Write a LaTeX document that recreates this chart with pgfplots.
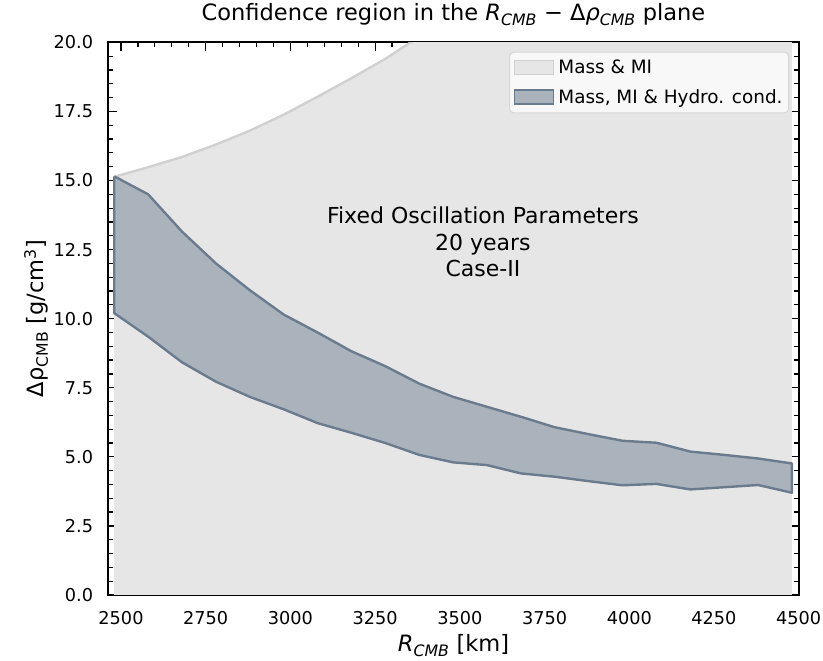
\documentclass[border=0pt]{standalone}
\usepackage{pgfplots}
\pgfplotsset{compat=1.18}
\usepackage{fontspec}
\setmainfont{DejaVu Sans}
\definecolor{lightfill}{HTML}{E6E6E6}
\definecolor{lightedge}{HTML}{D0D0D0}
\definecolor{bandfill}{HTML}{AAB3BC}
\definecolor{bandedge}{HTML}{6A7B8E}
\definecolor{legfill}{HTML}{F8F8F8}
\definecolor{legedge}{HTML}{D6D6D6}
\begin{document}
\begin{tikzpicture}
\begin{axis}[
  name=ax,
  scale only axis,
  width=690.4pt, height=552.7pt,
  xmin=2462.5, xmax=4500, ymin=0, ymax=20,
  xtick={2500,2750,...,4500},
  ytick={0,2.5,5,7.5,10,12.5,15,17.5,20},
  minor x tick num=4, minor y tick num=4,
  tick align=inside,
  tick pos=both,
  major tick length=8.5pt, minor tick length=4.5pt,
  every tick/.style={black, line width=1.2pt},
  axis line style={black, line width=1.6pt},
  /pgf/number format/assume math mode=true,
  tick label style={font=\fontsize{17.7}{21}\selectfont},
  xticklabel style={anchor=base, yshift=-29.3pt, /pgf/number format/1000 sep={}},
  yticklabel style={anchor=east, inner sep=0pt, xshift=-15pt,
    /pgf/number format/.cd, fixed, fixed zerofill, precision=1},
  title={Confidence region in the \textit{R}\textsubscript{\textit{CMB}} − Δ\textit{ρ}\textsubscript{\textit{CMB}} plane},
  title style={font=\fontsize{22.5}{27}\selectfont, at={(axis description cs:0.5,1)}, anchor=base, yshift=15.3pt},
  xlabel={\textit{R}\textsubscript{\textit{CMB}} [km]},
  xlabel style={font=\fontsize{22.5}{27}\selectfont, at={(axis description cs:0.5,0)}, anchor=base, yshift=-57pt},
  ylabel={Δρ\textsubscript{CMB} [g/cm\textsuperscript{3}]},
  ylabel style={font=\fontsize{22.5}{27}\selectfont, at={(axis description cs:-0.094,0.5)}, anchor=base},
  legend style={at={(axis description cs:0.986,0.983)}, anchor=north east,
    fill=legfill, draw=legedge, line width=1pt, rounded corners=4pt,
    font=\fontsize{18.4}{22}\selectfont, inner xsep=4pt, inner ysep=6pt,
    row sep=10pt},
  legend cell align=left,
  legend image code/.code={\draw[sharp corners,#1] (0pt,-7pt) rectangle (39pt,7pt); \path[draw=none] (42pt,0pt);},
]
% Mass & MI region (fill from 0 to upper bound)
\addplot[fill=lightfill, draw=none, forget plot] coordinates {
(2480,15.13) (2580,15.48) (2680,15.85) (2780,16.30) (2880,16.80) (2980,17.38)
(3080,18.03) (3180,18.70) (3280,19.40) (3380,20.20) (3480,21.05) (3580,22.00)
(3680,23.00) (3780,24.00) (3880,25.10) (3980,26.20) (4080,27.30) (4180,28.50)
(4280,29.70) (4380,31.00) (4480,32.30)
} \closedcycle;
\addplot[draw=lightedge, line width=2.4pt, forget plot] coordinates {
(2480,15.13) (2580,15.48) (2680,15.85) (2780,16.30) (2880,16.80) (2980,17.38)
(3080,18.03) (3180,18.70) (3280,19.40) (3380,20.20) (3480,21.05) (3580,22.00)
};
% Mass, MI & Hydro. cond. band (upper then lower reversed)
\addplot[fill=bandfill, draw=bandedge, line width=2.4pt, line join=round, forget plot] coordinates {
(2480,15.15) (2580,14.50) (2680,13.15) (2780,12.00) (2880,11.03) (2980,10.15)
(3080,9.50) (3180,8.82) (3280,8.28) (3380,7.65) (3480,7.17) (3580,6.81)
(3680,6.45) (3780,6.07) (3880,5.82) (3980,5.58) (4080,5.51) (4180,5.19)
(4280,5.07) (4380,4.94) (4480,4.76)
(4480,3.70) (4380,3.98) (4280,3.90) (4180,3.82) (4080,4.02) (3980,3.97)
(3880,4.12) (3780,4.28) (3680,4.40) (3580,4.70) (3480,4.80) (3380,5.07)
(3280,5.50) (3180,5.87) (3080,6.22) (2980,6.72) (2880,7.17) (2780,7.72)
(2680,8.42) (2580,9.35) (2480,10.20) (2480,15.15)
};
\addlegendimage{fill=lightfill, draw=lightedge, line width=1pt}
\addlegendentry{Mass \& MI}
\addlegendimage{fill=bandfill, draw=bandedge, line width=1.5pt}
\addlegendentry{Mass, MI \& Hydro. cond.}
\node[align=center, font=\fontsize{22}{26.5}\selectfont] at (axis cs:3568,12.77)
  {Fixed Oscillation Parameters\\20 years\\Case-II};
\end{axis}
\pgfresetboundingbox
\useasboundingbox ([shift={(-108.3pt,-66pt)}]ax.south west) rectangle ([shift={(24.3pt,42.3pt)}]ax.north east);
\end{tikzpicture}
\end{document}
